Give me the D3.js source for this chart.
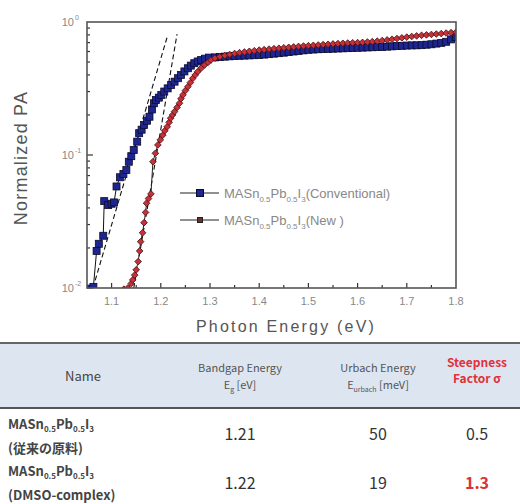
<!DOCTYPE html>
<html><head><meta charset="utf-8">
<script src="https://cdn.jsdelivr.net/npm/d3@7"></script>
<style>body{margin:0;background:#fff}svg{display:block}</style>
</head><body>
<svg id="c" width="520" height="504"></svg>
<script>
// ---- data ----
const conventional = [
 [1.058,0.0099],[1.063,0.0102],[1.0695,0.019],[1.074,0.0215],[1.083,0.0247],[1.085,0.045],[1.093,0.042],[1.100,0.043],[1.105,0.044],
 [1.110,0.058],[1.117,0.068],[1.124,0.072],[1.130,0.077],[1.135,0.089],[1.140,0.098],[1.145,0.109],[1.152,0.126],[1.156,0.146],
 [1.161,0.155],[1.166,0.168],[1.172,0.181],[1.177,0.194],[1.182,0.22],[1.186,0.245],[1.190,0.259],[1.196,0.27],[1.201,0.283],
 [1.207,0.30],[1.214,0.317],[1.221,0.336],[1.228,0.356],[1.235,0.378],[1.241,0.40],[1.248,0.425],[1.255,0.449],[1.261,0.47],
 [1.268,0.49],[1.275,0.505],[1.282,0.518],[1.290,0.53],[1.298,0.54],
 [1.31,.542],[1.32,.546],[1.33,.549],[1.34,.552],[1.35,.555],[1.36,.557],[1.37,.559],[1.38,.561],[1.39,.563],[1.40,.565],
 [1.41,.569],[1.42,.573],[1.43,.578],[1.44,.583],[1.45,.588],[1.46,.594],[1.47,.60],[1.48,.606],[1.49,.612],[1.50,.618],
 [1.51,.621],[1.52,.624],[1.53,.626],[1.54,.628],[1.55,.63],[1.56,.632],[1.57,.634],[1.58,.636],[1.59,.638],[1.60,.64],
 [1.61,.642],[1.62,.644],[1.63,.646],[1.64,.648],[1.65,.65],[1.66,.653],[1.67,.656],[1.68,.659],[1.69,.662],[1.70,.665],
 [1.71,.667],[1.72,.668],[1.73,.67],[1.74,.675],[1.75,.68],[1.76,.688],[1.77,.697],[1.78,.71],[1.79,.74],[1.80,.77]
];
const newMethod = [
 [1.125,0.0098],[1.133,0.0100],[1.140,0.0108],[1.143,0.0115],[1.147,0.0125],[1.150,0.0137],[1.154,0.0158],[1.157,0.019],
 [1.159,0.0223],[1.163,0.026],[1.166,0.031],[1.169,0.037],[1.171,0.0434],[1.175,0.047],[1.180,0.051],[1.184,0.089],
 [1.189,0.103],[1.194,0.119],[1.199,0.13],[1.204,0.141],[1.208,0.152],[1.213,0.163],[1.217,0.176],[1.220,0.189],[1.224,0.2],
 [1.228,0.212],[1.233,0.228],[1.238,0.245],[1.241,0.265],[1.245,0.283],[1.250,0.305],[1.255,0.326],[1.260,0.35],[1.265,0.377],
 [1.270,0.40],[1.275,0.423],[1.282,0.45],[1.289,0.475],[1.296,0.497],[1.302,0.518],
 [1.31,.535],[1.32,.548],[1.33,.56],[1.34,.57],[1.35,.58],[1.36,.588],[1.37,.595],[1.38,.602],[1.39,.608],[1.40,.615],
 [1.41,.62],[1.42,.625],[1.43,.63],[1.44,.635],[1.45,.64],[1.46,.645],[1.47,.65],[1.48,.655],[1.49,.66],[1.50,.664],
 [1.51,.668],[1.52,.672],[1.53,.676],[1.54,.68],[1.55,.684],[1.56,.688],[1.57,.692],[1.58,.695],[1.59,.698],[1.60,.70],
 [1.61,.703],[1.62,.707],[1.63,.712],[1.64,.718],[1.65,.725],[1.66,.733],[1.67,.742],[1.68,.751],[1.69,.76],[1.70,.77],
 [1.71,.778],[1.72,.786],[1.73,.794],[1.74,.80],[1.75,.806],[1.76,.812],[1.77,.818],[1.78,.826],[1.79,.832],[1.80,.838]
];
const fitConventional = [[1.062,0.01],[1.2136,0.785]];
const fitNew = [[1.145,0.01],[1.233,0.81]];
const xTicks = [1.1,1.2,1.3,1.4,1.5,1.6,1.7,1.8];
const xMinor = [1.15,1.25,1.35,1.45,1.55,1.65,1.75];
const yTickExp = [0,-1,-2];
const legendLabels = ["(Conventional)","(New )"];
const tableHeaders = ["Name","Bandgap Energy","Urbach Energy","Steepness"];
const tableRowsNote = ["(従来の原料)","(DMSO-complex)"];
const bandgap = ["1.21","1.22"];
const urbach = ["50","19"];
const steepness = ["0.5","1.3"];

// ---- chart ----
const svg = d3.select("#c");
const L=87,T=22,R=456,B=288;
const x = d3.scaleLinear().domain([1.05,1.8]).range([L,R]);
const y = d3.scaleLog().domain([0.01,1]).range([B,T]);
const font="'Liberation Sans',Arial,sans-serif";

svg.append("clipPath").attr("id","clip").append("rect").attr("x",L).attr("y",T).attr("width",R-L).attr("height",B-T);

// ticks (inward)
const ax = svg.append("g").attr("stroke","#333").attr("stroke-width",1.2);
xTicks.slice(0,-1).forEach(v=>ax.append("line").attr("x1",x(v)).attr("x2",x(v)).attr("y1",B).attr("y2",B-5));
xMinor.forEach(v=>ax.append("line").attr("x1",x(v)).attr("x2",x(v)).attr("y1",B).attr("y2",B-3));
[-2,-1].forEach(e=>{
  for(let m=1;m<10;m++){const v=m*Math.pow(10,e);
    ax.append("line").attr("x1",L).attr("x2",L+(m===1?6:3)).attr("y1",y(v)).attr("y2",y(v));}
});
svg.append("g").attr("font-family",font).attr("font-size",11).attr("fill","#888")
 .selectAll("text").data(xTicks).join("text").attr("x",d=>x(d)).attr("y",B+17).attr("text-anchor","middle").text(d=>d.toFixed(1));
const yl = svg.append("g").attr("font-family",font).attr("fill","#888");
yTickExp.forEach(e=>{
  yl.append("text").attr("x",74).attr("y",y(Math.pow(10,e))+4).attr("text-anchor","end").attr("font-size",11).text("10");
  yl.append("text").attr("x",75).attr("y",y(Math.pow(10,e))-2).attr("font-size",7).text(e===0?"0":String(e));
});
svg.append("text").attr("x",286).attr("y",332).attr("text-anchor","middle").attr("font-family",font)
  .attr("font-size",16).attr("letter-spacing",2.2).attr("fill","#555").text("Photon Energy (eV)");
svg.append("text").attr("transform","translate(27,158) rotate(-90)").attr("text-anchor","middle").attr("font-family",font)
  .attr("font-size",18).attr("letter-spacing",1.2).attr("fill","#555").text("Normalized PA");

const plot = svg.append("g").attr("clip-path","url(#clip)");
const line = d3.line().x(d=>x(d[0])).y(d=>y(Math.max(d[1],0.009)));
// fit lines
[fitConventional,fitNew].forEach(f=>plot.append("path").attr("d",line(f)).attr("fill","none").attr("stroke","#111").attr("stroke-width",1.1).attr("stroke-dasharray","5,3"));
// series
plot.append("path").attr("d",line(conventional)).attr("fill","none").attr("stroke","#111").attr("stroke-width",1);
plot.append("path").attr("d",line(newMethod)).attr("fill","none").attr("stroke","#222").attr("stroke-width",1);
plot.append("g").selectAll("rect").data(conventional).join("rect")
  .attr("x",d=>x(d[0])-3.5).attr("y",d=>y(d[1])-3.5).attr("width",7).attr("height",7)
  .attr("fill","#1c2590").attr("stroke","#0c0c2a").attr("stroke-width",0.8);
plot.append("g").selectAll("path").data(newMethod).join("path")
  .attr("d",d3.symbol().type(d3.symbolSquare).size(22)())
  .attr("transform",d=>`translate(${x(d[0])},${y(d[1])}) rotate(45)`)
  .attr("fill","#c8303a").attr("stroke","#4a1515").attr("stroke-width",0.8);

// frame
svg.append("rect").attr("x",L).attr("y",T).attr("width",R-L).attr("height",B-T).attr("fill","none").attr("stroke","#555").attr("stroke-width",1.6);

// legend
const lg = svg.append("g").attr("font-family",font).attr("fill","#888");
[193,220].forEach((ly,i)=>{
  svg.append("line").attr("x1",180).attr("x2",219).attr("y1",ly).attr("y2",ly).attr("stroke","#222").attr("stroke-width",1.2);
  if(i===0) svg.append("rect").attr("x",196.5).attr("y",ly-3.5).attr("width",7).attr("height",7).attr("fill","#1c2590").attr("stroke","#0c0c2a");
  else svg.append("rect").attr("x",197.5).attr("y",ly-2.5).attr("width",5).attr("height",5).attr("fill","#6a3030").attr("stroke","#222");
  const t = lg.append("text").attr("x",224).attr("y",ly+5).attr("font-size",13);
  t.append("tspan").text("MASn");
  t.append("tspan").attr("font-size",8).attr("dy",4).text("0.5");
  t.append("tspan").attr("dy",-4).text("Pb");
  t.append("tspan").attr("font-size",8).attr("dy",4).text("0.5");
  t.append("tspan").attr("dy",-4).text("I");
  t.append("tspan").attr("font-size",8).attr("dy",4).text("3");
  t.append("tspan").attr("dy",-4).text(legendLabels[i]);
});

// ---- table ----
const tf = "'Noto Sans CJK JP','Noto Sans',Arial,sans-serif";
const tb = svg.append("g").attr("font-family",tf);
tb.append("rect").attr("x",0).attr("y",343).attr("width",520).attr("height",65).attr("fill","#dde6f0");
tb.append("line").attr("x1",0).attr("x2",520).attr("y1",343).attr("y2",343).attr("stroke","#666").attr("stroke-width",2);
tb.append("line").attr("x1",0).attr("x2",520).attr("y1",408).attr("y2",408).attr("stroke","#555").attr("stroke-width",2);
const colX=[83,240,378,477];
tb.append("text").attr("x",colX[0]).attr("y",381).attr("text-anchor","middle").attr("font-size",13).attr("fill","#444").text(tableHeaders[0]);
tb.append("text").attr("x",colX[1]).attr("y",372).attr("text-anchor","middle").attr("font-size",11).attr("fill","#555").text(tableHeaders[1]);
let t2=tb.append("text").attr("x",colX[1]).attr("y",389).attr("text-anchor","middle").attr("font-size",11).attr("fill","#555");
t2.append("tspan").text("E"); t2.append("tspan").attr("font-size",7).attr("dy",3).text("g"); t2.append("tspan").attr("dy",-3).text(" [eV]");
tb.append("text").attr("x",colX[2]).attr("y",372).attr("text-anchor","middle").attr("font-size",11).attr("fill","#555").text(tableHeaders[2]);
let t3=tb.append("text").attr("x",colX[2]).attr("y",389).attr("text-anchor","middle").attr("font-size",11).attr("fill","#555");
t3.append("tspan").text("E"); t3.append("tspan").attr("font-size",7).attr("dy",3).text("urbach"); t3.append("tspan").attr("dy",-3).text(" [meV]");
tb.append("text").attr("x",colX[3]).attr("y",367).attr("text-anchor","middle").attr("font-size",12).attr("font-weight","bold").attr("fill","#e0323c").text(tableHeaders[3]);
tb.append("text").attr("x",colX[3]).attr("y",383).attr("text-anchor","middle").attr("font-size",12).attr("font-weight","bold").attr("fill","#e0323c").text("Factor σ");

[0,1].forEach(i=>{
  const base = i===0?429:476;
  const n = tb.append("text").attr("x",8).attr("y",base).attr("font-size",13).attr("font-weight","bold").attr("fill","#444");
  n.append("tspan").text("MASn"); n.append("tspan").attr("font-size",8).attr("dy",3).text("0.5");
  n.append("tspan").attr("dy",-3).text("Pb"); n.append("tspan").attr("font-size",8).attr("dy",3).text("0.5");
  n.append("tspan").attr("dy",-3).text("I"); n.append("tspan").attr("font-size",8).attr("dy",3).text("3");
  tb.append("text").attr("x",8).attr("y",base+24).attr("font-size",13).attr("font-weight","bold").attr("fill","#444").text(tableRowsNote[i]);
  const vy = i===0?440:489;
  tb.append("text").attr("x",colX[1]).attr("y",vy).attr("text-anchor","middle").attr("font-size",16).attr("fill","#333").text(bandgap[i]);
  tb.append("text").attr("x",colX[2]).attr("y",vy).attr("text-anchor","middle").attr("font-size",16).attr("fill","#333").text(urbach[i]);
  tb.append("text").attr("x",colX[3]).attr("y",vy).attr("text-anchor","middle").attr("font-size",16)
    .attr("font-weight",i===1?"bold":"normal").attr("fill",i===1?"#d8323c":"#333").text(steepness[i]);
});
</script>
</body></html>
